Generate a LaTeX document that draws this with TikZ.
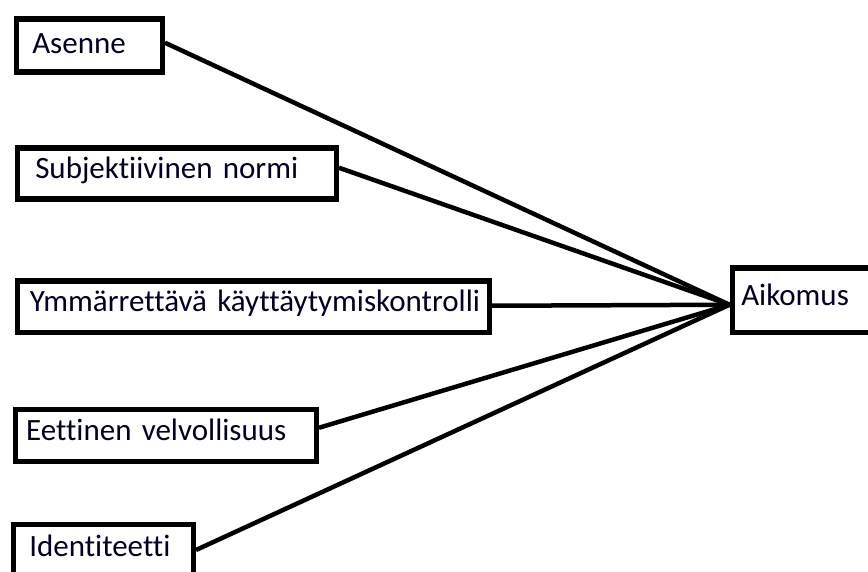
\documentclass[tikz,border=0pt]{standalone}
\usepackage{fontspec}
\setmainfont{Carlito}[Ligatures=CommonOff, WordSpace=0.75]
\begin{document}
\begin{tikzpicture}[x=1pt,y=-1pt,
  box/.style={draw=black, line width=5.5pt, rectangle, anchor=north west, align=left,
    font=\fontsize{31}{36}\selectfont, text=black!85!blue, inner ysep=0pt,
    text height=20pt, text depth=10pt},
  link/.style={draw=black, line width=4.5pt}]
\useasboundingbox (0,0) rectangle (868,572);
\clip (0,0) rectangle (868,572);
\fill[white] (0,0) rectangle (868,572);
\node[box, inner xsep=16pt, text width=114pt, minimum height=53pt, text depth=4pt] (asenne) at (13.5,16.5) {Asenne};
\node[box, inner xsep=18pt, text width=283pt, minimum height=51pt] (subj) at (14.5,145.5) {Subjektiivinen normi};
\node[box, inner xsep=12.5pt, text width=447pt, minimum height=51pt] (ymm) at (14.5,278.5) {\mbox{Ymmärrettävä käyttäytymiskontrolli}};
\node[box, inner xsep=11pt, text width=279pt, minimum height=52pt] (eett) at (12.5,406.5) {Eettinen velvollisuus};
\node[box, inner xsep=16pt, text width=148pt, text height=32.5pt, text depth=60pt] (ident) at (10.5,521.5) {Identiteetti};
\node[box, inner xsep=9pt, text width=207pt, minimum height=64pt] (aik) at (729.5,265.5) {Aikomus};
\coordinate (conv) at ([yshift=-4.5pt]aik.west);
\draw[link] ([yshift=3pt]asenne.east) -- (conv);
\draw[link] ([yshift=6pt]subj.east) -- (conv);
\draw[link] ([yshift=1pt]ymm.east) -- (conv);
\draw[link] ([yshift=7.5pt]eett.east) -- (conv);
\draw[link] ([yshift=-28.5pt]ident.north east) -- (conv);
\end{tikzpicture}
\end{document}
